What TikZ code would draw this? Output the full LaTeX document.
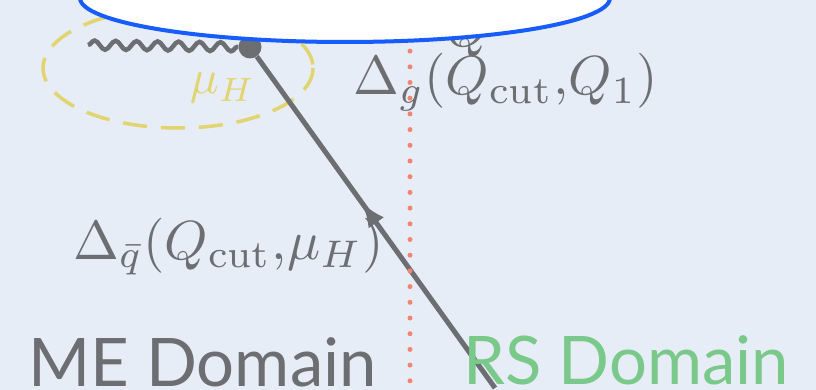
\documentclass[tikz,border=0pt]{standalone}
\usepackage{fontspec}
\newfontfamily\domainfont{Lato}
\usetikzlibrary{arrows.meta,shapes.geometric,decorations.pathmorphing,decorations.markings}

\definecolor{paper}{RGB}{231,237,246}
\definecolor{ink}{RGB}{108,110,114}
\definecolor{blobblue}{RGB}{22,92,255}
\definecolor{hardyellow}{RGB}{226,212,112}
\definecolor{cutred}{RGB}{242,132,112}
\definecolor{rsgreen}{RGB}{122,200,138}

\begin{document}
\begin{tikzpicture}[x=1pt, y=-1pt,
  line/.style     = {draw=ink, line width=5pt},
  photon/.style   = {draw=ink, line width=4.5pt, decorate,
                     decoration={snake, amplitude=4.5pt, segment length=21pt}},
  quark/.style    = {line, postaction={decorate},
                     decoration={markings, mark=at position 0.56 with {\arrow{Latex[length=25pt,width=19pt]}}}},
  vertex/.style   = {circle, fill=ink, minimum size=23pt, inner sep=0pt},
  hardcut/.style  = {draw=hardyellow, line width=3.5pt, dash pattern=on 24pt off 14pt},
  cutline/.style  = {draw=cutred, line width=5pt, line cap=round, dash pattern=on 0pt off 15.7pt},
  blob/.style     = {ellipse, draw=blobblue, fill=white, line width=4pt, inner sep=0pt,
                     minimum width=530pt, minimum height=88pt},
  lbl/.style      = {text=ink, inner sep=0pt, anchor=base west, scale=5.5},
  domainlbl/.style = {inner sep=0pt, anchor=base west, font=\fontsize{67}{77}\selectfont\domainfont},
]
  \fill[paper] (0,0) rectangle (816,390);
  \useasboundingbox (0,0) rectangle (816,390);

  % hard scale region round the vertex
  \draw[hardcut] (178,68) ellipse [x radius=135, y radius=60];
  \node[text=hardyellow, inner sep=0pt, anchor=base west, scale=4.8]
    (muh) at (189,94) {$\mu_H$};

  \node[vertex] (v) at (250,47) {};
  \coordinate (gam) at (88,45);
  \coordinate (qend) at (495,388);
  \draw[photon] (gam) -- (v);
  \draw[quark] (qend) -- (v);

  \node[lbl] (dg) at (352,95) {$\Delta_g(Q_{\mathrm{cut}}{,}Q_1)$};
  \node[lbl] (dq) at (72,259) {$\Delta_{\bar q}(Q_{\mathrm{cut}}{,}\mu_H)$};
  \node[lbl, scale=1.0] (qtop) at (445,47) {$Q$};

  % merging cut
  \coordinate (cuttop) at (410,4);
  \coordinate (cutbot) at (410,390);
  \draw[cutline] (cuttop) -- (cutbot);

  \node[blob] (me) at (345,-2) {};

  \node[domainlbl, text=ink] (medom) at (28,386) {ME Domain};
  \node[domainlbl, text=rsgreen] (rsdom) at (463,384) {RS Domain};
\end{tikzpicture}
\end{document}
